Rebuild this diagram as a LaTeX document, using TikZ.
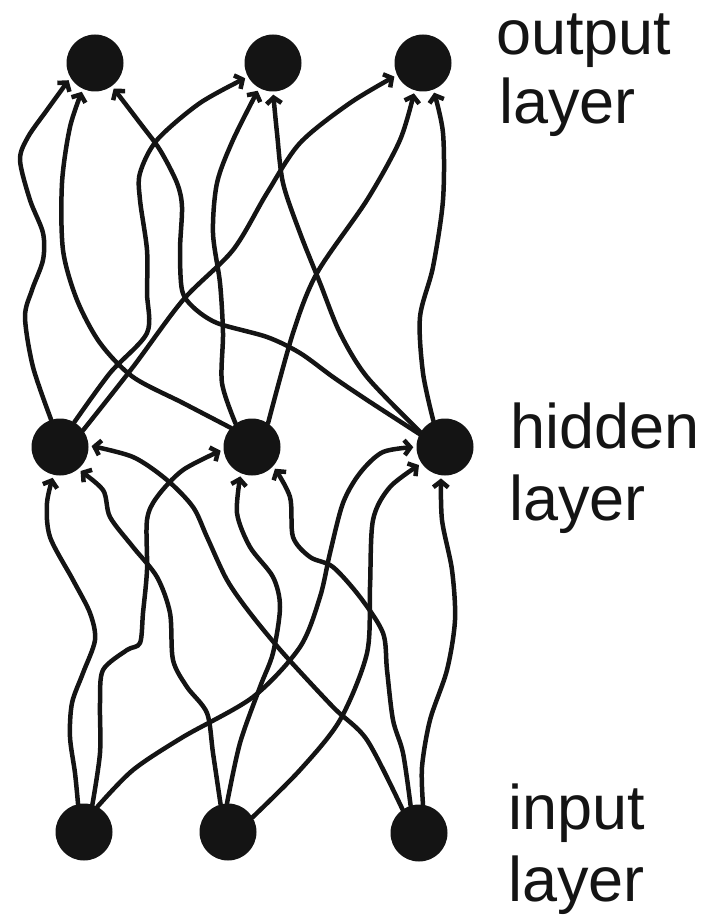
\documentclass[tikz,border=0pt]{standalone}
\usepackage{fontspec}
\setmainfont{Liberation Sans}
\usetikzlibrary{arrows.meta}
\definecolor{ink}{HTML}{141414}
\tikzset{
  neuron/.style={circle, fill=ink, draw=none, minimum size=57pt, inner sep=0pt},
  conn/.style={draw=ink, line width=4.5pt, line cap=round, line join=round,
    -{Straight Barb[length=6pt,width=15pt]}, shorten >=3pt},
  lbl/.style={anchor=base west, inner sep=0pt, font=\fontsize{63}{70}\selectfont, text=ink}
}
\begin{document}
\begin{tikzpicture}[x=1pt,y=-1pt]
\useasboundingbox (0,0) rectangle (710,917);
% nodes
\node[neuron] (O1) at (95,63) {};
\node[neuron] (O2) at (273,63) {};
\node[neuron] (O3) at (423,63) {};
\node[neuron] (H1) at (60,447) {};
\node[neuron] (H2) at (252,447) {};
\node[neuron] (H3) at (445,447) {};
\node[neuron] (I1) at (84,832) {};
\node[neuron] (I2) at (228,832) {};
\node[neuron] (I3) at (419,833) {};
% labels
\node[lbl] (t1) at (496,55) {output};
\node[lbl] (t2) at (499,124) {layer};
\node[lbl] (t3) at (510,448) {hidden};
\node[lbl] (t4) at (509,520) {layer};
\node[lbl] (t5) at (508,829) {input};
\node[lbl] (t6) at (508,901) {layer};
% hidden -> output
\draw[conn] plot[smooth] coordinates {(H1.108) (33,367) (25,317) (32,290) (43,260) (43,233) (30,200) (20,160) (28,137) (47,110) (O1.211)};
\draw[conn] plot[smooth] coordinates {(H2.138) (183,403) (133,377) (100,343) (77,300) (63,250) (62,183) (70,127) (O1.245)};
\draw[conn] plot[smooth] coordinates {(H3.153) (367,400) (333,377) (300,353) (267,337) (217,323) (193,307) (182,290) (180,250) (182,207) (177,183) (160,150) (140,123) (O1.306)};
\draw[conn] plot[smooth] coordinates {(H1.60) (110,373) (147,333) (147,293) (147,250) (140,200) (140,173) (157,140) (200,103) (O2.209)};
\draw[conn] plot[smooth] coordinates {(H2.125) (222,383) (223,333) (220,283) (213,233) (217,183) (233,140) (O2.241)};
\draw[conn] plot[smooth] coordinates {(H3.149) (367,377) (340,333) (320,283) (300,233) (283,183) (277,133) (O2.270)};
\draw[conn] plot[smooth] coordinates {(H1.36) (133,367) (183,300) (233,250) (267,193) (300,143) (350,103) (O3.205)};
\draw[conn] plot[smooth] coordinates {(H2.56) (293,333) (317,273) (367,200) (400,140) (O3.253)};
\draw[conn] plot[smooth] coordinates {(H3.114) (423,373) (420,317) (433,267) (443,200) (443,133) (O3.291)};
% input -> hidden
\draw[conn] plot[smooth] coordinates {(I1.102) (75,773) (70,737) (72,703) (83,673) (95,640) (90,613) (73,580) (50,537) (47,503) (H1.257)};
\draw[conn] plot[smooth] coordinates {(I2.105) (213,753) (207,713) (187,687) (173,660) (170,613) (157,577) (133,547) (110,517) (103,490) (H1.309)};
\draw[conn] plot[smooth] coordinates {(I3.125) (367,740) (333,707) (283,653) (250,613) (227,580) (207,537) (193,507) (167,480) (133,457) (H1.3)};
\draw[conn] plot[smooth] coordinates {(I1.73) (100,753) (100,703) (103,670) (127,650) (140,643) (143,613) (147,570) (147,520) (157,497) (183,470) (H2.185)};
\draw[conn] plot[smooth] coordinates {(I2.92) (240,743) (260,687) (273,653) (280,607) (273,577) (250,547) (237,513) (H2.247)};
\draw[conn] plot[smooth] coordinates {(I3.107) (403,753) (393,720) (387,670) (383,633) (360,597) (333,567) (310,557) (293,537) (290,497) (H2.318)};
\draw[conn] plot[smooth] coordinates {(I1.62) (133,770) (183,737) (253,697) (300,647) (320,597) (330,553) (343,503) (360,473) (383,452) (H3.180)};
\draw[conn] plot[smooth] coordinates {(I2.31) (300,770) (340,720) (367,653) (370,587) (373,520) (390,487) (H3.215)};
\draw[conn] plot[smooth] coordinates {(I3.82) (422,767) (430,720) (447,670) (455,620) (452,570) (442,520) (H3.262)};
\end{tikzpicture}
\end{document}
